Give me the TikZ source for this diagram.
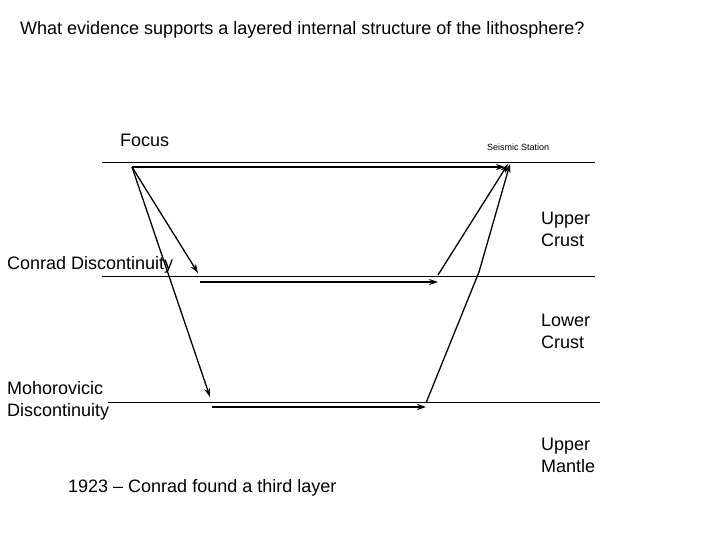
\documentclass[tikz,border=0pt]{standalone}
\usepackage{fontspec}
\setmainfont{Liberation Sans}
\usetikzlibrary{arrows.meta}
\begin{document}
\begin{tikzpicture}[x=1pt,y=-1pt,
  lbl/.style={anchor=west,inner sep=0pt,font=\fontsize{18}{22}\selectfont,align=left},
  ray/.style={line width=1.3pt,-{Stealth[length=9pt,width=6pt]}},
  lay/.style={line width=0.7pt}]
\useasboundingbox (0,0) rectangle (720,540);
\node[lbl,font=\fontsize{18}{20}\selectfont] (t) at (20,30) {What evidence supports a layered internal structure of the lithosphere?};
\node[lbl] (focus) at (120,140) {Focus};
\node[lbl,font=\fontsize{9}{10}\selectfont] (st) at (487,147) {Seismic Station};
\node[lbl] (uc) at (541,229) {Upper\\Crust};
\node[lbl] (cd) at (7,265) {Conrad Discontinuity};
\node[lbl] (lc) at (541,331) {Lower\\Crust};
\node[lbl] (md) at (7,401) {Mohorovicic\\Discontinuity};
\node[lbl] (um) at (541,455) {Upper\\Mantle};
\node[lbl] (yr) at (68,488) {1923 -- Conrad found a third layer};
\coordinate (s0a) at (102,162); \coordinate (s0b) at (595,162);
\coordinate (s1a) at (102,276); \coordinate (s1b) at (595,276);
\coordinate (s2a) at (108,402); \coordinate (s2b) at (600,402);
\draw[lay] (s0a) -- (s0b);
\draw[lay] (s1a) -- (s1b);
\draw[lay] (s2a) -- (s2b);
\coordinate (F) at (132,167);
\coordinate (S) at (508,164);
\coordinate (a1) at (198,273); \coordinate (a2) at (200,282); \coordinate (a3) at (438,282);
\coordinate (a4) at (438,275);
\coordinate (b1) at (210,397); \coordinate (b2) at (212,407); \coordinate (b3) at (426,407);
\coordinate (b4) at (426,403); \coordinate (b5) at (479,272); \coordinate (b6) at (510,164);
\draw[ray] (F) -- (505,167);
\draw[ray] (F) -- (a1);
\draw[ray] (a2) -- (a3);
\draw[ray] (a4) -- (S);
\draw[ray] (F) -- (b1);
\draw[ray] (b2) -- (b3);
\draw[line width=1.3pt] (b4) -- (b5);
\draw[ray] (b5) -- (b6);
\end{tikzpicture}
\end{document}
